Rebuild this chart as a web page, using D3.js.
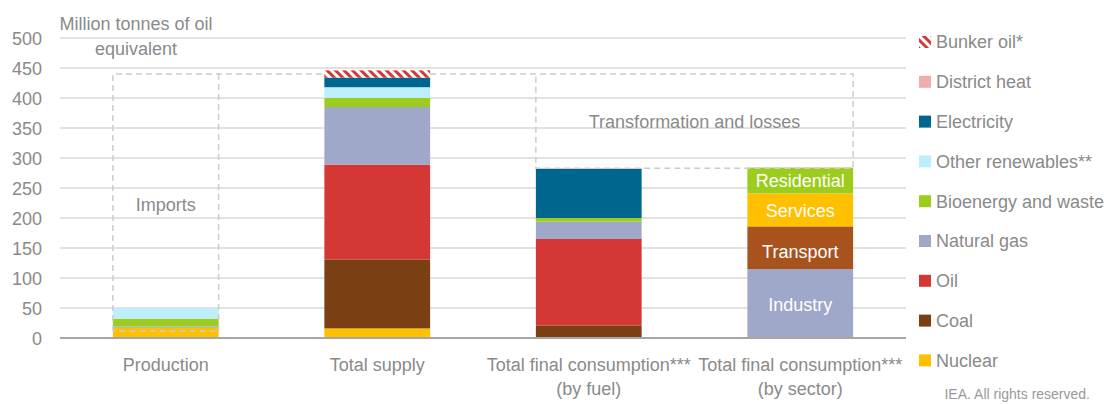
<!DOCTYPE html>
<html>
<head>
<meta charset="utf-8">
<script src="https://cdn.jsdelivr.net/npm/d3@7"></script>
<style>
  html, body { margin: 0; padding: 0; background: #fff; }
  svg { display: block; font-family: "Liberation Sans", Arial, sans-serif; }
</style>
</head>
<body>
<svg id="chart" width="1104" height="404"></svg>
<script>
// ---- Data ----
const categories = ["Production", "Total supply", "Total final consumption*** (by fuel)", "Total final consumption*** (by sector)"];
const categoryLines = [["Production"], ["Total supply"], ["Total final consumption***", "(by fuel)"], ["Total final consumption***", "(by sector)"]];

const fuelSeries = ["Nuclear", "Coal", "Oil", "Natural gas", "Bioenergy and waste", "Other renewables**", "Electricity", "District heat", "Bunker oil*"];
// values for Production, Total supply, TFC (by fuel)
const nuclear         = [17, 16, 0];
const coal            = [0, 115, 21];
const oil             = [0, 158, 144];
const naturalGas      = [2, 96, 29];
const bioenergy       = [13, 15, 6];
const otherRenewables = [18, 18, 0];
const electricity     = [0, 16, 82];
const districtHeat    = [0, 0, 1];
const bunkerOil       = [0, 12, 0];

const sectorSeries = ["Industry", "Transport", "Services", "Residential"];
const sectorValues = [115, 71, 55, 43];

const yTicks = [0, 50, 100, 150, 200, 250, 300, 350, 400, 450, 500];
const legendOrder = ["Bunker oil*", "District heat", "Electricity", "Other renewables**", "Bioenergy and waste", "Natural gas", "Oil", "Coal", "Nuclear"];

const importsBox = { bottom: 11.7, top: 440 };
const transformBox = { bottom: 283, top: 440 };

// ---- Styles ----
const fuelColors = {
  "Nuclear": "#ffc000",
  "Coal": "#7b3f14",
  "Oil": "#d53735",
  "Natural gas": "#9fa8c9",
  "Bioenergy and waste": "#9ccc1c",
  "Other renewables**": "#bdeefb",
  "Electricity": "#00668e",
  "District heat": "#efaeab",
  "Bunker oil*": "url(#hatch)"
};
const sectorColors = {
  "Industry": "#9fa8c9",
  "Transport": "#a8531d",
  "Services": "#ffc000",
  "Residential": "#9ccc1c"
};
const sectorLabelShift = { "Industry": 1, "Transport": 4, "Services": 1, "Residential": 0 };
const textColor = "#8a8a8a";

const svg = d3.select("#chart");
const defs = svg.append("defs");
const pat = defs.append("pattern").attr("id", "hatch").attr("patternUnits", "userSpaceOnUse")
  .attr("width", 6).attr("height", 6).attr("patternTransform", "rotate(-45)");
pat.append("rect").attr("width", 6).attr("height", 6).attr("fill", "#fff");
pat.append("rect").attr("width", 3).attr("height", 6).attr("fill", "#d53735");

const x = d3.scaleBand().domain(categories).range([60, 906]).paddingInner(0.5).paddingOuter(0.25);
const y = d3.scaleLinear().domain([0, 500]).range([338, 38]);

// gridlines
svg.append("g").selectAll("line").data(yTicks.filter(d => d > 0)).join("line")
  .attr("x1", 60).attr("x2", 906)
  .attr("y1", d => y(d)).attr("y2", d => y(d))
  .attr("stroke", "#d9d9d9").attr("stroke-width", 1.5);

// y axis labels
const yAxis = d3.axisLeft(y).tickValues(yTicks).tickSize(0).tickPadding(0);
const yg = svg.append("g").attr("transform", "translate(42,0)").call(yAxis);
yg.select(".domain").remove();
yg.selectAll("text").attr("fill", textColor).style("font-size", "18px")
  .style("font-family", "'Liberation Sans', Arial, sans-serif").attr("dy", "0.36em");

// stacked fuel bars
const fuelData = [0, 1, 2].map(i => {
  const row = { cat: categories[i] };
  const arrs = [nuclear, coal, oil, naturalGas, bioenergy, otherRenewables, electricity, districtHeat, bunkerOil];
  fuelSeries.forEach((s, k) => row[s] = arrs[k][i]);
  return row;
});
const stack = d3.stack().keys(fuelSeries);
const stacked = stack(fuelData);
svg.append("g").selectAll("g").data(stacked).join("g")
  .attr("fill", d => fuelColors[d.key])
  .selectAll("rect").data(d => d.filter(p => p[1] - p[0] > 0)).join("rect")
  .attr("x", d => x(d.data.cat))
  .attr("width", x.bandwidth())
  .attr("y", d => y(d[1]))
  .attr("height", d => y(d[0]) - y(d[1]));

// sector bar
const sectorRow = { cat: categories[3] };
sectorSeries.forEach((s, k) => sectorRow[s] = sectorValues[k]);
const sStack = d3.stack().keys(sectorSeries)([sectorRow]);
const sg = svg.append("g");
sg.selectAll("rect").data(sStack).join("rect")
  .attr("x", x(categories[3])).attr("width", x.bandwidth())
  .attr("y", d => y(d[0][1])).attr("height", d => y(d[0][0]) - y(d[0][1]))
  .attr("fill", d => sectorColors[d.key]);
sg.selectAll("text").data(sStack).join("text")
  .attr("x", x(categories[3]) + x.bandwidth() / 2)
  .attr("y", d => (y(d[0][1]) + y(d[0][0])) / 2 + sectorLabelShift[d.key])
  .attr("dy", "0.36em")
  .attr("text-anchor", "middle").attr("fill", "#fff").style("font-size", "18px")
  .text(d => d.key);

// baseline
svg.append("line").attr("x1", 60).attr("x2", 906).attr("y1", y(0)).attr("y2", y(0))
  .attr("stroke", "#a6a6a6").attr("stroke-width", 2);

// dashed boxes
const dash = svg.append("g").attr("fill", "none").attr("stroke", "#cccccc")
  .attr("stroke-width", 1.5).attr("stroke-dasharray", "6,4");
const pL = x(categories[0]), pR = pL + x.bandwidth();
const tsL = x(categories[1]), tsR = tsL + x.bandwidth();
const fL = x(categories[2]);
const sR = x(categories[3]) + x.bandwidth();
dash.append("path").attr("d", `M${pL},${y(importsBox.bottom)} L${pL},${y(importsBox.top)} L${tsL},${y(importsBox.top)}`);
dash.append("path").attr("d", `M${pR},${y(importsBox.top)} L${pR},${y(importsBox.bottom)} L${pL},${y(importsBox.bottom)}`);
dash.append("path").attr("d", `M${tsR},${y(transformBox.top)} L${sR},${y(transformBox.top)} L${sR},${y(transformBox.bottom)} L${fL},${y(transformBox.bottom)} L${fL},${y(transformBox.top)}`);

// box labels
svg.append("text").attr("x", (pL + pR) / 2).attr("y", 205).attr("dy", "0.36em")
  .attr("text-anchor", "middle").attr("fill", textColor).style("font-size", "18px").text("Imports");
svg.append("text").attr("x", (fL + sR) / 2).attr("y", 122).attr("dy", "0.36em")
  .attr("text-anchor", "middle").attr("fill", textColor).style("font-size", "18px").text("Transformation and losses");

// y title
const yt = svg.append("text").attr("text-anchor", "middle").attr("fill", textColor).style("font-size", "18px");
yt.append("tspan").attr("x", 136).attr("y", 30).text("Million tonnes of oil");
yt.append("tspan").attr("x", 136).attr("y", 55).text("equivalent");

// category labels
svg.append("g").selectAll("text").data(categories).join("text")
  .attr("text-anchor", "middle").attr("fill", textColor).style("font-size", "18px")
  .each(function(d, i) {
    const t = d3.select(this);
    categoryLines[i].forEach((ln, j) => {
      t.append("tspan").attr("x", x(d) + x.bandwidth() / 2).attr("y", 371 + j * 24).text(ln);
    });
  });

// legend
const lg = svg.append("g").selectAll("g").data(legendOrder).join("g")
  .attr("transform", (d, i) => `translate(919,${42 + i * 39.8})`);
lg.append("rect").attr("x", 0).attr("y", -6).attr("width", 12).attr("height", 12)
  .attr("fill", d => fuelColors[d]);
lg.append("text").attr("x", 17).attr("y", 0).attr("dy", "0.36em").attr("fill", textColor)
  .style("font-size", "18px").text(d => d);

// footer
svg.append("text").attr("x", 1090).attr("y", 399).attr("text-anchor", "end")
  .attr("fill", "#9a9a9a").style("font-size", "14px").text("IEA. All rights reserved.");
</script>
</body>
</html>
